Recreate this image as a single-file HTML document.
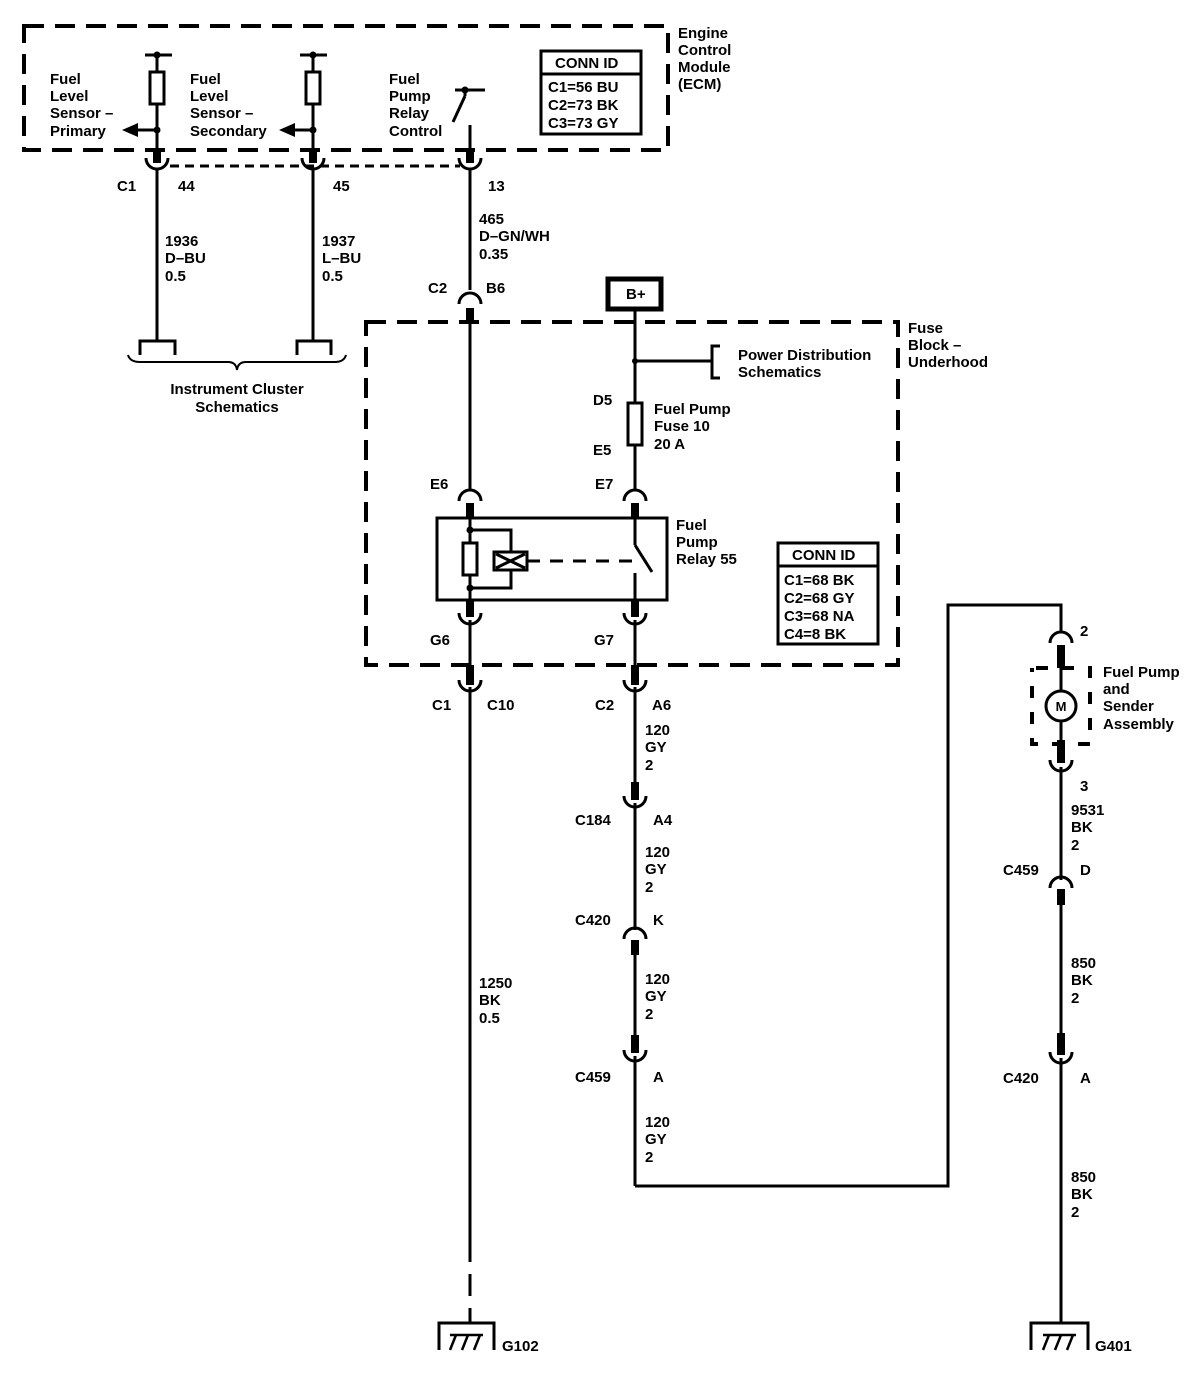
<!DOCTYPE html>
<html><head><meta charset="utf-8"><style>
html,body{margin:0;padding:0;background:#fff;}
svg{display:block}
text{font-family:"Liberation Sans",Arial,sans-serif;font-size:15px;font-weight:bold;fill:#000}
</style></head><body>
<svg width="1198" height="1392" viewBox="0 0 1198 1392" xmlns="http://www.w3.org/2000/svg">
<g fill="none" stroke="#000">
<rect x="24" y="26" width="644" height="124" stroke-width="4" stroke-dasharray="20,11"/>
<rect x="366" y="322" width="532" height="343" stroke-width="4" stroke-dasharray="20,11"/>
<line x1="170" y1="166" x2="460" y2="166" stroke-width="3" stroke-dasharray="9,6"/>

<line x1="145" y1="55" x2="172" y2="55" stroke-width="3"/>
<line x1="157" y1="55" x2="157" y2="150" stroke-width="3"/>
<rect x="150" y="72" width="14" height="32" stroke-width="3" fill="#fff"/>
<line x1="157" y1="130" x2="135" y2="130" stroke-width="3"/>
<line x1="157" y1="150" x2="157" y2="163" stroke-width="8"/>
<path d="M146 158 A11 11 0 0 0 168 158" stroke-width="3"/>
<line x1="157" y1="168" x2="157" y2="340" stroke-width="3"/>
<path d="M140 355 V341 H175 V355" stroke-width="3"/>
<line x1="300" y1="55" x2="327" y2="55" stroke-width="3"/>
<line x1="313" y1="55" x2="313" y2="150" stroke-width="3"/>
<rect x="306" y="72" width="14" height="32" stroke-width="3" fill="#fff"/>
<line x1="313" y1="130" x2="292" y2="130" stroke-width="3"/>
<line x1="313" y1="150" x2="313" y2="163" stroke-width="8"/>
<path d="M302 158 A11 11 0 0 0 324 158" stroke-width="3"/>
<line x1="313" y1="168" x2="313" y2="340" stroke-width="3"/>
<path d="M297 355 V341 H331 V355" stroke-width="3"/>
<path d="M128 355 Q130 362 140 362 H228 Q236 362 237 370 Q238 362 246 362 H335 Q344 362 346 355" stroke-width="2"/>

<line x1="455" y1="90" x2="485" y2="90" stroke-width="3"/>
<line x1="465" y1="90" x2="465" y2="96" stroke-width="3"/>
<line x1="465" y1="96" x2="453" y2="122" stroke-width="3"/>
<line x1="470" y1="125" x2="470" y2="150" stroke-width="3"/>
<line x1="470" y1="150" x2="470" y2="163" stroke-width="8"/>
<path d="M459 158 A11 11 0 0 0 481 158" stroke-width="3"/>
<line x1="470" y1="168" x2="470" y2="290" stroke-width="3"/>
<path d="M459 304 A11 11 0 0 1 481 304" stroke-width="3"/>
<line x1="470" y1="308" x2="470" y2="322" stroke-width="8"/>
<line x1="470" y1="322" x2="470" y2="490" stroke-width="3"/>
<path d="M459 501 A11 11 0 0 1 481 501" stroke-width="3"/>
<line x1="470" y1="503" x2="470" y2="518" stroke-width="8"/>
<rect x="437" y="518" width="230" height="82" stroke-width="3"/>
<line x1="470" y1="518" x2="470" y2="600" stroke-width="3"/>
<rect x="463" y="543" width="14" height="32" stroke-width="3" fill="#fff"/>
<path d="M470 530 H511 V588 H470" stroke-width="3"/>
<rect x="494" y="552" width="33" height="18" stroke-width="3" fill="#fff"/>
<path d="M496 554 L525 568 M525 554 L496 568" stroke-width="3"/>
<line x1="527" y1="561" x2="640" y2="561" stroke-width="3" stroke-dasharray="13,10"/>
<line x1="635" y1="518" x2="635" y2="545" stroke-width="3"/>
<line x1="635" y1="545" x2="652" y2="572" stroke-width="3"/>
<line x1="635" y1="573" x2="635" y2="600" stroke-width="3"/>
<line x1="470" y1="600" x2="470" y2="617" stroke-width="8"/>
<path d="M459 613 A11 11 0 0 0 481 613" stroke-width="3"/>
<line x1="470" y1="620" x2="470" y2="665" stroke-width="3"/>
<line x1="470" y1="665" x2="470" y2="685" stroke-width="8"/>
<path d="M459 680 A11 11 0 0 0 481 680" stroke-width="3"/>
<line x1="470" y1="687" x2="470" y2="1240" stroke-width="3"/>
<line x1="470" y1="1240" x2="470" y2="1322" stroke-width="3" stroke-dasharray="22,12"/>
<path d="M439 1350 V1323 H494 V1350" stroke-width="3"/>
<path d="M450 1350 L456 1335 M462 1350 L468 1335 M474 1350 L480 1335 M450 1335 H483" stroke-width="2.5"/>

<rect x="608" y="279" width="53" height="30" stroke-width="5"/>
<line x1="635" y1="309" x2="635" y2="490" stroke-width="3"/>
<line x1="635" y1="361" x2="712" y2="361" stroke-width="3"/>
<path d="M720 346 H712 V378 H720" stroke-width="3"/>
<rect x="628" y="403" width="14" height="42" stroke-width="3" fill="#fff"/>
<path d="M624 501 A11 11 0 0 1 646 501" stroke-width="3"/>
<line x1="635" y1="503" x2="635" y2="518" stroke-width="8"/>
<line x1="635" y1="600" x2="635" y2="617" stroke-width="8"/>
<path d="M624 613 A11 11 0 0 0 646 613" stroke-width="3"/>
<line x1="635" y1="620" x2="635" y2="665" stroke-width="3"/>
<line x1="635" y1="665" x2="635" y2="685" stroke-width="8"/>
<path d="M624 680 A11 11 0 0 0 646 680" stroke-width="3"/>
<line x1="635" y1="687" x2="635" y2="785" stroke-width="3"/>
<line x1="635" y1="782" x2="635" y2="800" stroke-width="8"/>
<path d="M624 796 A11 11 0 0 0 646 796" stroke-width="3"/>
<line x1="635" y1="803" x2="635" y2="930" stroke-width="3"/>
<path d="M624 939 A11 11 0 0 1 646 939" stroke-width="3"/>
<line x1="635" y1="940" x2="635" y2="955" stroke-width="8"/>
<line x1="635" y1="955" x2="635" y2="1035" stroke-width="3"/>
<line x1="635" y1="1035" x2="635" y2="1053" stroke-width="8"/>
<path d="M624 1050 A11 11 0 0 0 646 1050" stroke-width="3"/>
<line x1="635" y1="1056" x2="635" y2="1186" stroke-width="3"/>
<path d="M635 1186 H948 V605 H1061 V633" stroke-width="3"/>

<path d="M1050 643 A11 11 0 0 1 1072 643" stroke-width="3"/>
<line x1="1061" y1="645" x2="1061" y2="668" stroke-width="8"/>
<rect x="1032" y="668" width="58" height="76" stroke-width="4" stroke-dasharray="12,14" stroke-dashoffset="-4"/>
<line x1="1061" y1="668" x2="1061" y2="745" stroke-width="3"/>
<circle cx="1061" cy="706" r="15" stroke-width="3" fill="#fff"/>
<line x1="1061" y1="740" x2="1061" y2="763" stroke-width="8"/>
<path d="M1050 760 A11 11 0 0 0 1072 760" stroke-width="3"/>
<line x1="1061" y1="767" x2="1061" y2="880" stroke-width="3"/>
<path d="M1050 888 A11 11 0 0 1 1072 888" stroke-width="3"/>
<line x1="1061" y1="889" x2="1061" y2="905" stroke-width="8"/>
<line x1="1061" y1="905" x2="1061" y2="1035" stroke-width="3"/>
<line x1="1061" y1="1033" x2="1061" y2="1055" stroke-width="8"/>
<path d="M1050 1052 A11 11 0 0 0 1072 1052" stroke-width="3"/>
<line x1="1061" y1="1058" x2="1061" y2="1323" stroke-width="3"/>
<path d="M1031 1350 V1323 H1088 V1350" stroke-width="3"/>
<path d="M1043 1350 L1049 1335 M1055 1350 L1061 1335 M1067 1350 L1073 1335 M1043 1335 H1076" stroke-width="2.5"/>

<rect x="541" y="51" width="100" height="83" stroke-width="3"/>
<line x1="541" y1="74" x2="641" y2="74" stroke-width="3"/>
<rect x="778" y="543" width="100" height="101" stroke-width="3"/>
<line x1="778" y1="566" x2="878" y2="566" stroke-width="3"/>
</g>
<g fill="#000">
<circle cx="157" cy="55" r="3.5"/><circle cx="313" cy="55" r="3.5"/><circle cx="465" cy="90" r="3.5"/>
<circle cx="157" cy="130" r="3.5"/><circle cx="313" cy="130" r="3.5"/>
<polygon points="122,130 138,123 138,137"/><polygon points="279,130 295,123 295,137"/>
<circle cx="470" cy="530" r="3.5"/><circle cx="470" cy="588" r="3.5"/>
<circle cx="635" cy="361" r="3"/>
</g>
<text x="50" y="84">Fuel</text><text x="50" y="101">Level</text><text x="50" y="118">Sensor –</text><text x="50" y="136">Primary</text>
<text x="190" y="84">Fuel</text><text x="190" y="101">Level</text><text x="190" y="118">Sensor –</text><text x="190" y="136">Secondary</text>
<text x="389" y="84">Fuel</text><text x="389" y="101">Pump</text><text x="389" y="118">Relay</text><text x="389" y="136">Control</text>
<text x="555" y="68">CONN ID</text>
<text x="548" y="92">C1=56 BU</text><text x="548" y="110">C2=73 BK</text><text x="548" y="128">C3=73 GY</text>
<text x="678" y="38">Engine</text><text x="678" y="55">Control</text><text x="678" y="72">Module</text><text x="678" y="89">(ECM)</text>
<text x="117" y="191">C1</text><text x="178" y="191">44</text><text x="333" y="191">45</text><text x="488" y="191">13</text>
<text x="165" y="246">1936</text><text x="165" y="263">D–BU</text><text x="165" y="281">0.5</text>
<text x="322" y="246">1937</text><text x="322" y="263">L–BU</text><text x="322" y="281">0.5</text>
<text x="479" y="224">465</text><text x="479" y="241">D–GN/WH</text><text x="479" y="259">0.35</text>
<text x="237" y="394" text-anchor="middle">Instrument Cluster</text><text x="237" y="412" text-anchor="middle">Schematics</text>
<text x="428" y="293">C2</text><text x="486" y="293">B6</text>
<text x="626" y="299">B+</text>
<text x="908" y="333">Fuse</text><text x="908" y="350">Block –</text><text x="908" y="367">Underhood</text>
<text x="738" y="360">Power Distribution</text><text x="738" y="377">Schematics</text>
<text x="593" y="405">D5</text><text x="593" y="455">E5</text>
<text x="654" y="414">Fuel Pump</text><text x="654" y="431">Fuse 10</text><text x="654" y="449">20 A</text>
<text x="430" y="489">E6</text><text x="595" y="489">E7</text>
<text x="676" y="530">Fuel</text><text x="676" y="547">Pump</text><text x="676" y="564">Relay 55</text>
<text x="792" y="560">CONN ID</text>
<text x="784" y="585">C1=68 BK</text><text x="784" y="603">C2=68 GY</text><text x="784" y="621">C3=68 NA</text><text x="784" y="639">C4=8 BK</text>
<text x="430" y="645">G6</text><text x="594" y="645">G7</text>
<text x="432" y="710">C1</text><text x="487" y="710">C10</text><text x="595" y="710">C2</text><text x="652" y="710">A6</text>
<text x="645" y="735">120</text><text x="645" y="752">GY</text><text x="645" y="770">2</text>
<text x="575" y="825">C184</text><text x="653" y="825">A4</text>
<text x="645" y="857">120</text><text x="645" y="874">GY</text><text x="645" y="892">2</text>
<text x="575" y="925">C420</text><text x="653" y="925">K</text>
<text x="645" y="984">120</text><text x="645" y="1001">GY</text><text x="645" y="1019">2</text>
<text x="575" y="1082">C459</text><text x="653" y="1082">A</text>
<text x="645" y="1127">120</text><text x="645" y="1144">GY</text><text x="645" y="1162">2</text>
<text x="479" y="988">1250</text><text x="479" y="1005">BK</text><text x="479" y="1023">0.5</text>
<text x="502" y="1351">G102</text>
<text x="1080" y="636">2</text>
<text x="1061" y="711" text-anchor="middle" style="font-size:13px">M</text>
<text x="1103" y="677">Fuel Pump</text><text x="1103" y="694">and</text><text x="1103" y="711">Sender</text><text x="1103" y="729">Assembly</text>
<text x="1080" y="791">3</text>
<text x="1071" y="815">9531</text><text x="1071" y="832">BK</text><text x="1071" y="850">2</text>
<text x="1003" y="875">C459</text><text x="1080" y="875">D</text>
<text x="1071" y="968">850</text><text x="1071" y="985">BK</text><text x="1071" y="1003">2</text>
<text x="1003" y="1083">C420</text><text x="1080" y="1083">A</text>
<text x="1071" y="1182">850</text><text x="1071" y="1199">BK</text><text x="1071" y="1217">2</text>
<text x="1095" y="1351">G401</text>
</svg>
</body></html>
